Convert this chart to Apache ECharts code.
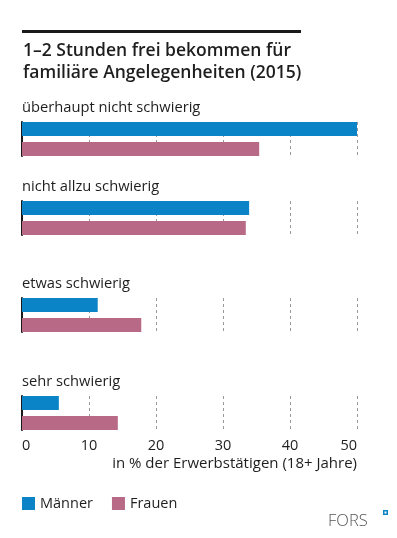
<!DOCTYPE html>
<html><head><meta charset="utf-8">
<style>html,body{margin:0;padding:0;background:#fff}#c{width:397px;height:538px}</style>
<script src="https://cdn.jsdelivr.net/npm/echarts@6/dist/echarts.min.js"></script>
</head><body><div id="c"></div>
<script>
const categories = ['überhaupt nicht schwierig', 'nicht allzu schwierig', 'etwas schwierig', 'sehr schwierig'];
const maenner = [50.0, 33.9, 11.3, 5.5];
const frauen = [35.4, 33.4, 17.8, 14.3];
const xTicks = [0, 10, 20, 30, 40, 50];
const seriesNames = ['Männer', 'Frauen'];
const axisTitle = 'in % der Erwerbstätigen (18+ Jahre)';
const chartTitle = '1–2 Stunden frei bekommen für\nfamiliäre Angelegenheiten (2015)';

const FONT = '"Open Sans", sans-serif';
const TXT = '#1e1e1e';
const BLUE = '#0B84C7', PINK = '#B76985';
const gridTops = [122, 201, 298, 396];
const chart = echarts.init(document.getElementById('c'));

const grids = [], xAxes = [], yAxes = [], series = [], titles = [];
titles.push({text: chartTitle, left: 18, top: 35,
  textStyle: {fontFamily: FONT, fontSize: 17.5, fontWeight: 600, color: TXT, lineHeight: 22}});
categories.forEach((cat, i) => {
  grids.push({left: 22, width: 335, top: gridTops[i], height: 34});
  titles.push({text: cat, left: 17, top: gridTops[i] - 27,
    textStyle: {fontFamily: FONT, fontSize: 14.7, fontWeight: 'normal', color: TXT}});
  const last = i === categories.length - 1;
  xAxes.push({type: 'value', gridIndex: i, min: xTicks[0], max: xTicks[xTicks.length - 1], interval: 10,
    axisLine: {show: false}, axisTick: {show: false},
    splitLine: {show: true, lineStyle: {type: [3, 3], color: '#999', width: 1}},
    axisLabel: {show: last, margin: 8, fontFamily: FONT, fontSize: 14.5, color: TXT,
      alignMinLabel: 'left', alignMaxLabel: 'right'},
    name: last ? axisTitle : '', nameLocation: 'end', nameGap: 0,
    nameTextStyle: {fontFamily: FONT, fontSize: 15, color: TXT, align: 'right', verticalAlign: 'top', padding: [26, 0, 0, 0]}
  });
  yAxes.push({type: 'category', gridIndex: i, data: [cat], inverse: true,
    axisLine: {show: true, lineStyle: {color: '#1a1a1a', width: 2}},
    axisTick: {show: false}, axisLabel: {show: false}});
  series.push({name: seriesNames[0], type: 'bar', xAxisIndex: i, yAxisIndex: i, data: [maenner[i]],
    barWidth: 14, barGap: '43%', itemStyle: {color: BLUE}, silent: true});
  series.push({name: seriesNames[1], type: 'bar', xAxisIndex: i, yAxisIndex: i, data: [frauen[i]],
    barWidth: 14, barGap: '43%', itemStyle: {color: PINK}, silent: true});
});

chart.setOption({
  animation: false,
  title: titles,
  grid: grids, xAxis: xAxes, yAxis: yAxes, series: series,
  legend: {data: seriesNames, left: 22, top: 496, padding: 0, icon: 'rect', itemWidth: 13, itemHeight: 13, itemGap: 19,
    textStyle: {fontFamily: FONT, fontSize: 14.5, color: TXT}, selectedMode: false},
  graphic: [
    {type: 'rect', shape: {x: 22, y: 30, width: 279, height: 3}, style: {fill: '#1a1a1a'}},
    {type: 'text', left: 328, top: 513, style: {text: 'FORS', font: '300 16.5px "Open Sans", sans-serif', fill: '#555'}},
    {type: 'rect', shape: {x: 383, y: 510, width: 5, height: 5}, style: {fill: BLUE}},
    {type: 'rect', shape: {x: 384.5, y: 511.5, width: 2, height: 2}, style: {fill: '#fff'}}
  ]
});
</script></body></html>
